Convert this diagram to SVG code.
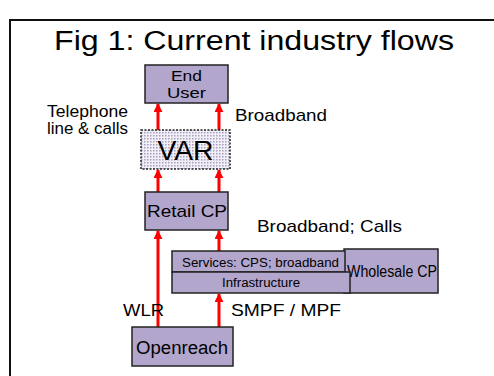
<svg xmlns="http://www.w3.org/2000/svg" width="494" height="376" viewBox="0 0 494 376">
<defs>
<style>
.box{fill:#b3a6cc;stroke:#222;stroke-width:1.5}
.t{font-family:"Liberation Sans",Arial,sans-serif;fill:#000}
.c{text-anchor:middle}
.arr{stroke:#ff0000;stroke-width:3;fill:none;marker-end:url(#ah)}
</style>
<marker id="ah" viewBox="0 0 10 10" refX="9" refY="5" markerWidth="3" markerHeight="3" orient="auto" markerUnits="strokeWidth">
<path d="M0,0 L10,5 L0,10 z" fill="#ff0000"/>
</marker>
<pattern id="dots" width="3" height="3" patternUnits="userSpaceOnUse">
<rect width="3" height="3" fill="#f2f0f7"/>
<rect x="0" y="0" width="1.5" height="1.5" fill="#a89cc0"/>
</pattern>
</defs>
<rect x="10" y="20" width="500" height="400" fill="#fff" stroke="#111" stroke-width="2"/>
<text class="t c" x="254" y="50" font-size="27" textLength="400" lengthAdjust="spacingAndGlyphs">Fig 1: Current industry flows</text>
<g id="connectors">
<line class="arr" x1="158" y1="327" x2="158" y2="231"/>
<line class="arr" x1="219" y1="327" x2="219" y2="294"/>
<line class="arr" x1="219" y1="251" x2="219" y2="231"/>
<line class="arr" x1="158" y1="192" x2="158" y2="170"/>
<line class="arr" x1="219" y1="192" x2="219" y2="170"/>
<line class="arr" x1="158" y1="130" x2="158" y2="104"/>
<line class="arr" x1="219" y1="130" x2="219" y2="104"/>
</g>
<g id="enduser">
<rect class="box" x="145" y="65" width="83" height="38"/>
<text class="t c" x="186.5" y="81" font-size="15" textLength="31" lengthAdjust="spacingAndGlyphs">End</text>
<text class="t c" x="186.5" y="98" font-size="15" textLength="39" lengthAdjust="spacingAndGlyphs">User</text>
</g>
<g id="var">
<rect x="141" y="130" width="89" height="39" fill="url(#dots)" stroke="#222" stroke-width="1.5" stroke-dasharray="2,1.5"/>
<text class="t c" x="185.5" y="160" font-size="27" textLength="56" lengthAdjust="spacingAndGlyphs">VAR</text>
</g>
<g id="retailcp">
<rect class="box" x="145" y="192" width="83" height="38"/>
<text class="t c" x="187" y="217" font-size="17" textLength="80" lengthAdjust="spacingAndGlyphs">Retail CP</text>
</g>
<g id="wholesalecp">
<rect class="box" x="344" y="249" width="94" height="44"/>
<text class="t" x="347" y="277" font-size="16" textLength="90" lengthAdjust="spacingAndGlyphs">Wholesale CP</text>
</g>
<g id="services">
<rect class="box" x="172" y="251" width="173" height="21"/>
<text class="t c" x="260.5" y="266.5" font-size="12" textLength="157" lengthAdjust="spacingAndGlyphs">Services: CPS; broadband</text>
</g>
<g id="infrastructure">
<rect class="box" x="172" y="272" width="178" height="21"/>
<text class="t c" x="261" y="287" font-size="12" textLength="78" lengthAdjust="spacingAndGlyphs">Infrastructure</text>
</g>
<g id="openreach">
<rect class="box" x="132" y="327" width="101" height="39"/>
<text class="t c" x="182" y="354" font-size="18" textLength="92" lengthAdjust="spacingAndGlyphs">Openreach</text>
</g>
<g id="labels">
<text class="t" x="47" y="117" font-size="16" textLength="81" lengthAdjust="spacingAndGlyphs">Telephone</text>
<text class="t" x="47" y="134" font-size="16" textLength="81" lengthAdjust="spacingAndGlyphs">line &amp; calls</text>
<text class="t" x="235" y="121" font-size="17" textLength="92" lengthAdjust="spacingAndGlyphs">Broadband</text>
<text class="t" x="257" y="232" font-size="17" textLength="145" lengthAdjust="spacingAndGlyphs">Broadband; Calls</text>
<text class="t" x="123" y="316" font-size="17" textLength="41" lengthAdjust="spacingAndGlyphs">WLR</text>
<text class="t" x="231" y="316" font-size="17" textLength="110" lengthAdjust="spacingAndGlyphs">SMPF / MPF</text>
</g>
</svg>
